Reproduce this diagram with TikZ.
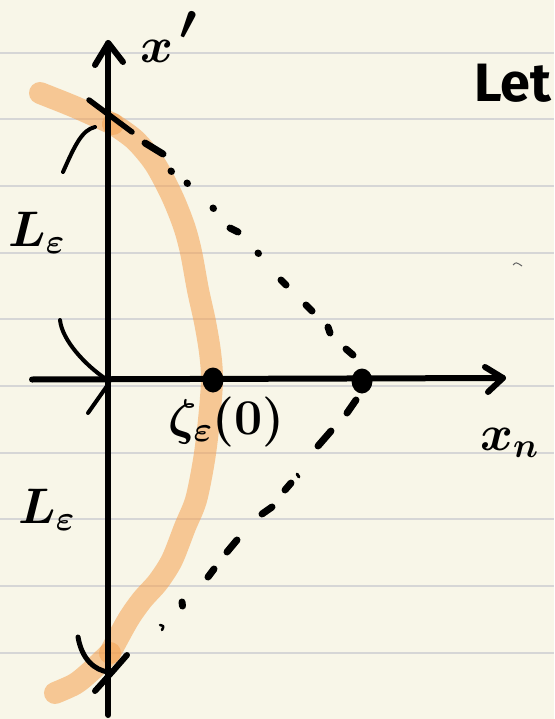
\RequirePackage{fix-cm}
\documentclass[tikz,border=0pt]{standalone}
\usepackage{amsmath}
\usepackage{fontspec}
\usepackage{tikz}
\usetikzlibrary{calc,shapes.geometric}
\newfontfamily\letfont{Fira Sans}
\definecolor{paper}{rgb}{0.973,0.965,0.910}
\definecolor{ruleline}{rgb}{0.84,0.84,0.84}
\definecolor{markerorange}{rgb}{0.96,0.63,0.31}
\tikzset{
  ruled/.style={
    line width=2pt,
    draw=ruleline
  },
  marker/.style={
    line width=22pt,
    line cap=round,
    line join=round,
    draw=markerorange,
    draw opacity=.55
  },
  pen/.style={
    line width=6pt,
    line cap=round,
    line join=round,
    black
  },
  thinpen/.style={
    line width=4pt,
    line cap=round,
    line join=round,
    black
  },
  dotmark/.style={
    line width=7pt,
    line cap=round,
    black
  },
  dot/.style={
    ellipse,
    fill=black,
    inner sep=0pt,
    minimum width=21pt,
    minimum height=25pt
  },
  lbl/.style={
    inner sep=0pt,
    anchor=base west,
    font=\fontsize{50}{56}\selectfont\boldmath
  }
}

\begin{document}
\begin{tikzpicture}[x=1pt,y=-1pt]
\useasboundingbox (0,0) rectangle (554,719);
\fill[paper] (0,0) rectangle (554,719);
\foreach \k in {0,...,9}
  \draw[ruled] (0,{52.7+66.67*\k}) -- (554,{52.7+66.67*\k});

\draw[marker] plot[smooth] coordinates {(40,93) (75,107) (113,124)};
\draw[marker] plot[smooth] coordinates {(113,124) (135,140) (155,164) (172,196) (184,226) (191,252) (198,290) (205,322) (210,352) (212,380) (209,420) (204,460) (196,500) (185,527) (172,560) (158,582) (142,600) (128,620) (110,653)};
\draw[marker] plot[smooth] coordinates {(110,653) (90,672) (75,684) (55,693)};

\coordinate (xtip) at (108.3,43);
\coordinate (xbot) at (108.3,715);
\coordinate (nleft) at (32,379.5);
\coordinate (ntip) at (503,378);
\draw[pen] (xbot) -- (xtip);
\draw[pen] (95,65) -- (xtip) -- (123,62);
\draw[pen] (nleft) -- (ntip);
\draw[pen] (485,367) -- (ntip) -- (488,392);

\node[dot] (zeta0) at (213,380) {};
\node[dot] (xn0) at (362,381) {};

\foreach \ax/\ay/\bx/\by in {145/143/163/154, 171/171/171.5/171.5, 187/183/187.5/183.5,
  213/208/213.5/208.5, 230/228/238/232, 258/253/258.5/253.5, 281/280/286/285,
  306/305/312/311, 328/327/330/333, 346/349/353/355}
  \draw[dotmark] (\ax,\ay) -- (\bx,\by);
\foreach \ax/\ay/\bx/\by in {347/413/356/400, 318/446/331/431, 285/490/291/483,
  262/514/272/507, 227/552/237/540, 208/577/214/569, 182/602/182.5/606}
  \draw[dotmark] (\ax,\ay) -- (\bx,\by);
\draw[thinpen,line width=3pt] (297,474) -- (299,477);
\draw[thinpen,line width=2.5pt] (160,625) .. controls (164,626) .. (162,630);

\draw[pen,line width=5.5pt] (89,100) -- (132,132);
\draw[thinpen] (63,172) .. controls (75,145) and (82,130) .. (95,127);
\draw[thinpen] (60,320) .. controls (62,340) and (85,365) .. (106,379);
\draw[thinpen] (88,413) -- (107,386);
\draw[thinpen,line width=5pt] (78,637) .. controls (82,660) and (95,670) .. (108,672);
\draw[pen] (127,655) -- (113,671) -- (95,691);
\draw[line width=1pt,black!60] (513,265) .. controls (516,262) .. (522,266);

\node[lbl] (xprime) at (140,63) {$x^{\kern6pt\raisebox{5pt}{$\prime$}}$};
\node[lbl] (xnormal) at (480,450) {$x_n$};
\node[lbl] (zetalbl) at (168,434) {$\zeta_\varepsilon(0)$};
\node[lbl] (Lup) at (8,246) {$L_\varepsilon$};
\node[lbl] (Ldown) at (18,523) {$L_\varepsilon$};
\node[anchor=base west,inner sep=0pt,font=\fontsize{54}{60}\selectfont\letfont\bfseries] (letword) at (474,102) {Let};
\end{tikzpicture}
\end{document}
